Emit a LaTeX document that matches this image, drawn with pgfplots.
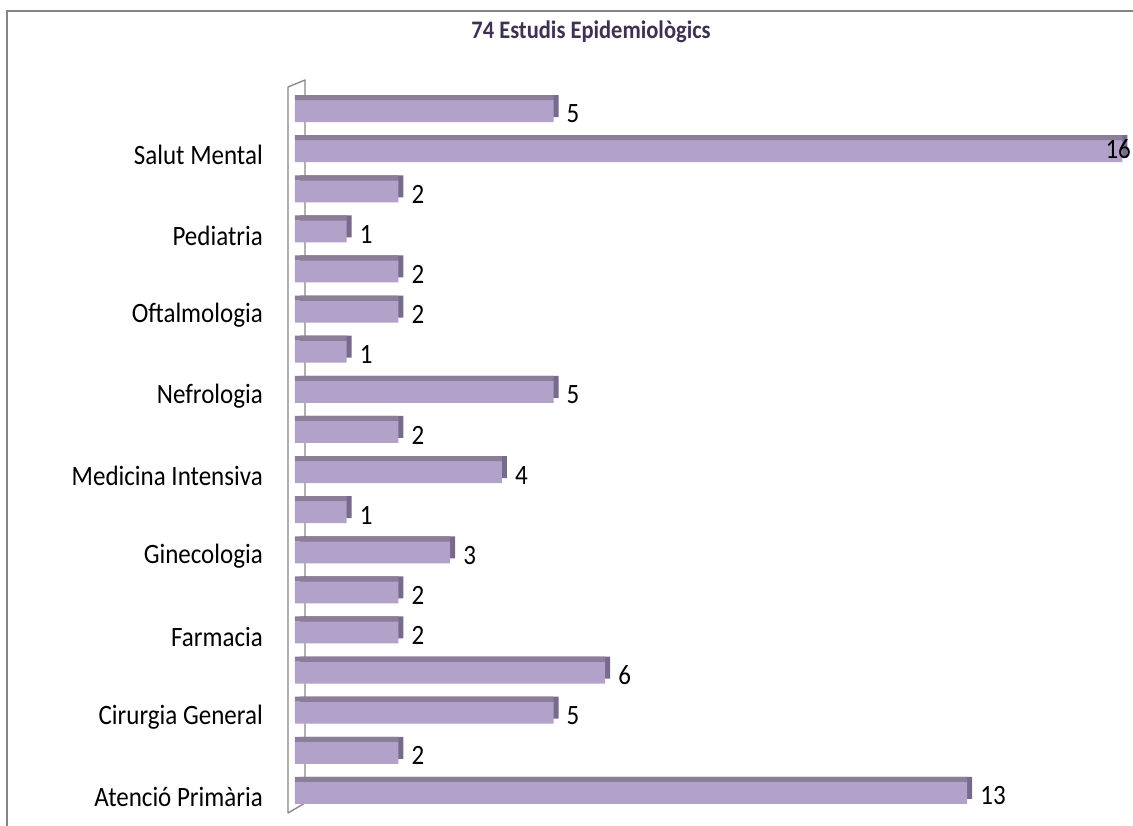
\documentclass[border=0pt]{standalone}
\usepackage{fontspec}
\setmainfont{Carlito}
\usepackage{graphicx}
\usepackage{pgfplots}
\usepackage{pgfplotstable}
\pgfplotsset{compat=1.18}
\definecolor{barface}{RGB}{178,161,200}
\definecolor{bartop}{RGB}{138,126,153}
\definecolor{barside}{RGB}{120,106,140}
\definecolor{titlecol}{RGB}{63,49,81}
\definecolor{wallcol}{RGB}{134,134,134}
\newcommand{\st}[1]{\scalebox{1}[1.12]{#1}}
\pgfplotstableread{
y v lab
1 13 13
2 2 2
3 5 5
4 6 6
5 2 2
6 2 2
7 3 3
8 1 1
9 4 4
10 2 2
11 5 5
12 1 1
13 2 2
14 2 2
15 1 1
16 2 2
17 16 {}
18 5 5
}\data
\begin{document}
\begin{tikzpicture}[x=1pt,y=1pt]
\useasboundingbox (0,0) rectangle (1133,825);
\fill[white] (0,0) rectangle (1133,825);
% outer frame
\draw[wallcol, line width=2pt] (7,-5) -- (7,814) -- (1140,814);
% title
\node[font=\fontsize{22.5}{26}\selectfont\bfseries, text=titlecol] at (591,793) {\st{74 Estudis Epidemiològics}};
% wall
\draw[wallcol, line width=1.3pt, line join=round] (288,738) -- (305,745) -- (305,22) -- (288,12) -- cycle;
\begin{axis}[
  at={(300pt,12pt)}, anchor=south west, scale only axis,
  width=833pt, height=722pt,
  xmin=0, xmax=16.11, ymin=0.5, ymax=18.5,
  axis lines*=left, axis line style={draw=none},
  xtick=\empty,
  ytick={1,3,...,17},
  yticklabels={\st{Atenció Primària}, \st{Cirurgia General}, \st{Farmacia}, \st{Ginecologia}, \st{Medicina Intensiva}, \st{Nefrologia}, \st{Oftalmologia}, \st{Pediatria}, \st{Salut Mental}},
  major tick length=0pt,
  yticklabel style={font=\fontsize{25}{30}\selectfont, anchor=east, inner sep=0pt, xshift=-37pt, yshift=-4pt, text=black},
  clip=false,
]
\addplot[xbar, bar width=22pt, bar shift=5pt, fill=barside, draw=none,
  point meta=explicit symbolic, nodes near coords={\st{\pgfplotspointmeta}},
  nodes near coords style={font=\fontsize{25}{30}\selectfont, anchor=west, inner sep=0pt, xshift=8pt, yshift=-3pt, text=black}]
  table[x=v, y=y, meta=lab] {\data};
\addplot[xbar, bar width=22pt, bar shift=0pt, xshift=-5pt, fill=barface, draw=none]
  table[x=v, y=y] {\data};
\addplot[xbar, bar width=5pt, bar shift=13.5pt, xshift=-5pt, fill=bartop, draw=none]
  table[x=v, y=y] {\data};
\addplot[draw=none, mark=none, nodes near coords={\st{16}},
  nodes near coords style={font=\fontsize{25}{30}\selectfont, anchor=west, inner sep=0pt, xshift=-22pt, yshift=2pt, text=black}]
  coordinates {(16,17)};
\end{axis}
\end{tikzpicture}
\end{document}
